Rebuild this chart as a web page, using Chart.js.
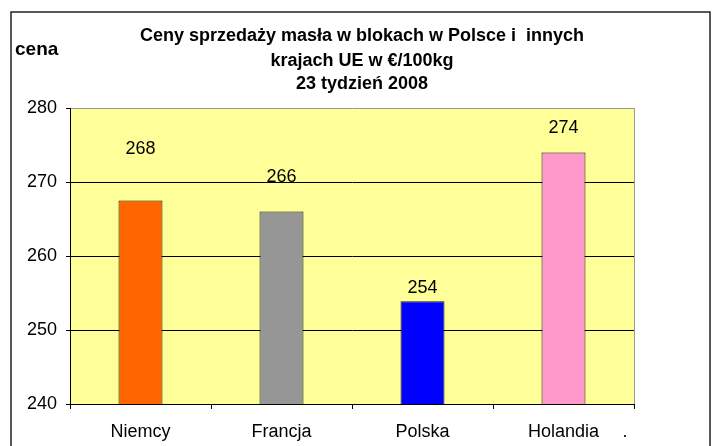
<!DOCTYPE html>
<html><head><meta charset="utf-8">
<script src="https://cdn.jsdelivr.net/npm/chart.js@4.4.1/dist/chart.umd.min.js"></script>
<style>html,body{margin:0;padding:0;background:#fff}#wrap{width:717px;height:446px}</style>
</head><body><div id="wrap"><canvas id="c" width="717" height="446"></canvas></div>
<script>
const categories = ['Niemcy', 'Francja', 'Polska', 'Holandia'];
const prices = [267.5, 266.0, 253.9, 274.0];
const priceLabels = ['268', '266', '254', '274'];
const yTicks = [240, 250, 260, 270, 280];
const titleLines = ['Ceny sprzedaży masła w blokach w Polsce i  innych', 'krajach UE w €/100kg', '23 tydzień 2008'];
const yAxisTitle = 'cena';
const extraLabel = '.';

const barColors = ['#FF6600', '#969696', '#0000FF', '#FF99CC'];
const labelOffsets = [51, 35, 13, 24];
const FONT = '"Liberation Sans", Arial, sans-serif';

const deco = {
  id: 'deco',
  beforeDraw(chart) {
    const {ctx, chartArea: a} = chart;
    ctx.save();
    ctx.fillStyle = '#fff';
    ctx.fillRect(0, 0, chart.width, chart.height);
    ctx.fillStyle = '#FFFF99';
    ctx.fillRect(a.left, a.top, a.right - a.left, a.bottom - a.top);
    ctx.restore();
  },
  afterDraw(chart) {
    const {ctx, chartArea: a} = chart;
    ctx.save();
    ctx.strokeStyle = '#999';
    ctx.lineWidth = 1;
    ctx.beginPath();
    ctx.moveTo(a.right + 0.5, a.top);
    ctx.lineTo(a.right + 0.5, a.bottom);
    ctx.stroke();
    ctx.strokeStyle = '#222';
    ctx.lineWidth = 1.5;
    ctx.strokeRect(11, 12, 699, 460);
    ctx.fillStyle = '#000';
    ctx.font = 'bold 19px ' + FONT;
    ctx.textAlign = 'left';
    ctx.textBaseline = 'middle';
    ctx.fillText(yAxisTitle, 15, 50);
    ctx.font = 'bold 18px ' + FONT;
    ctx.textAlign = 'center';
    const ty = [36, 61, 84];
    titleLines.forEach((t, i) => ctx.fillText(t, 362, ty[i]));
    ctx.font = '18px ' + FONT;
    const meta = chart.getDatasetMeta(0);
    meta.data.forEach((bar, i) => {
      ctx.fillText(priceLabels[i], bar.x, bar.y - labelOffsets[i]);
    });
    ctx.fillText(extraLabel, a.right - 9, 432);
    ctx.restore();
  }
};

new Chart(document.getElementById('c'), {
  type: 'bar',
  data: {
    labels: categories,
    datasets: [{
      data: prices,
      backgroundColor: barColors,
      borderColor: '#111',
      borderWidth: 1,
      categoryPercentage: 1,
      barPercentage: 0.312
    }]
  },
  options: {
    responsive: false,
    animation: false,
    events: [],
    layout: {padding: {left: 0, top: 108, right: 83, bottom: 0}},
    plugins: {legend: {display: false}, tooltip: {enabled: false}, title: {display: false}},
    scales: {
      x: {
        offset: true,
        grid: {offset: true, drawOnChartArea: false, drawTicks: true, tickLength: 5, color: '#000'},
        border: {color: '#000', width: 1},
        ticks: {color: '#000', font: {family: FONT, size: 18}, padding: 12, maxRotation: 0},
        afterFit(s) { s.height = 42; }
      },
      y: {
        min: 240, max: 280,
        afterBuildTicks(s) { s.ticks = yTicks.map(v => ({value: v})); },
        grid: {
          color: ctx => (ctx.tick && ctx.tick.value === 280) ? '#999' : '#000',
          tickColor: '#000',
          tickLength: 4,
          lineWidth: 1
        },
        border: {color: '#000', width: 1},
        ticks: {color: '#000', font: {family: FONT, size: 18}, padding: 9},
        afterFit(s) { s.width = 70; }
      }
    }
  },
  plugins: [deco]
});
</script>
</body></html>
